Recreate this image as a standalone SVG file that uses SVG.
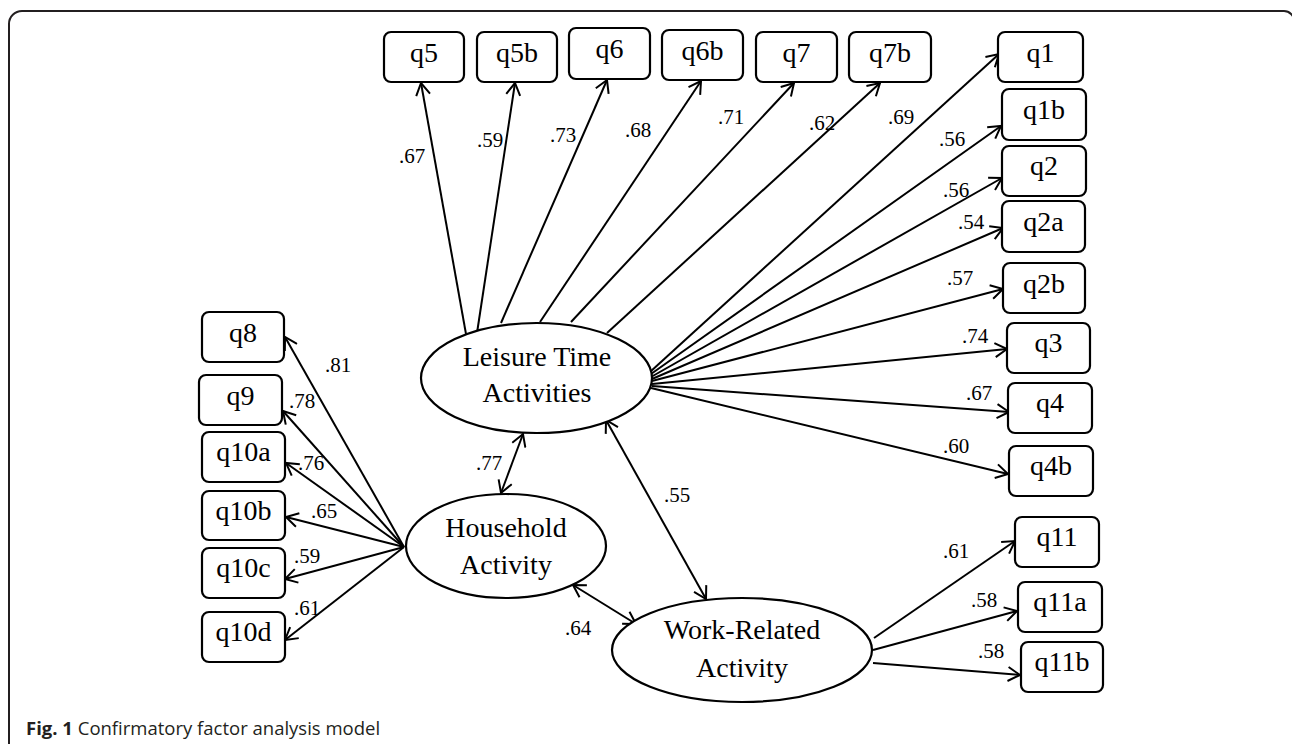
<svg xmlns="http://www.w3.org/2000/svg" width="1292" height="744" viewBox="0 0 1292 744">
<defs>
<style>
.box{fill:#fff;stroke:#000;stroke-width:2.2}
.ell{fill:#fff;stroke:#000;stroke-width:2.2}
.t{font-family:"Liberation Serif","Times New Roman",serif;font-size:28px;fill:#000;text-anchor:middle}
.e{font-family:"Liberation Serif","Times New Roman",serif;font-size:28px;fill:#000;text-anchor:middle}
.l{font-family:"Liberation Serif","Times New Roman",serif;font-size:21px;fill:#000}
.c line{stroke:#000;stroke-width:2;marker-end:url(#arr)}
.c line.bi{marker-start:url(#arr)}
.cap{font-family:"Open Sans","Noto Sans",sans-serif;font-size:18.5px;fill:#231f20}
</style>
<marker id="arr" viewBox="0 0 14 16" refX="13" refY="8" markerWidth="14" markerHeight="16" markerUnits="userSpaceOnUse" orient="auto-start-reverse">
<path d="M1,1 L13,8 L1,15" fill="none" stroke="#000" stroke-width="2"/>
</marker>
</defs>
<rect width="1292" height="744" fill="#fff"/>
<path d="M9,744 V24 A13,13 0 0 1 22,11 H1284 A10,10 0 0 1 1294,21 V744" fill="none" stroke="#231f20" stroke-width="2"/>

<g class="c" id="connectors">
<line x1="466" y1="334" x2="421" y2="83"/>
<line x1="477" y1="333" x2="515" y2="83"/>
<line x1="501" y1="323" x2="607" y2="80"/>
<line x1="540" y1="322" x2="701" y2="81"/>
<line x1="571" y1="322" x2="794" y2="83"/>
<line x1="607" y1="333" x2="880" y2="83"/>
<line x1="650" y1="372" x2="999" y2="54"/>
<line x1="651" y1="374" x2="1001" y2="126"/>
<line x1="651" y1="377" x2="1002" y2="178"/>
<line x1="652" y1="379" x2="1003" y2="228"/>
<line x1="652" y1="381" x2="1003" y2="289"/>
<line x1="652" y1="384" x2="1007" y2="349"/>
<line x1="652" y1="386" x2="1009" y2="412"/>
<line x1="651" y1="388" x2="1008" y2="474"/>
<line x1="404" y1="547" x2="285" y2="337"/>
<line x1="404" y1="547" x2="283" y2="411"/>
<line x1="404" y1="547" x2="286" y2="463"/>
<line x1="404" y1="547" x2="286" y2="517"/>
<line x1="404" y1="547" x2="285" y2="579"/>
<line x1="404" y1="547" x2="285" y2="640"/>
<line x1="874" y1="638" x2="1015" y2="541"/>
<line x1="873" y1="650" x2="1017" y2="611"/>
<line x1="873" y1="663" x2="1020" y2="675"/>
<line class="bi" x1="523" y1="434" x2="501" y2="493"/>
<line class="bi" x1="606" y1="420" x2="706" y2="599"/>
<line class="bi" x1="573" y1="585" x2="636" y2="624"/>
</g>

<g id="labels" class="l">
<text x="399" y="163">.67</text>
<text x="477" y="147">.59</text>
<text x="550" y="142">.73</text>
<text x="625" y="137">.68</text>
<text x="718" y="124">.71</text>
<text x="809" y="130">.62</text>
<text x="888" y="124">.69</text>
<text x="939" y="146">.56</text>
<text x="943" y="197">.56</text>
<text x="958" y="229">.54</text>
<text x="947" y="285">.57</text>
<text x="962" y="343">.74</text>
<text x="966" y="400">.67</text>
<text x="943" y="453">.60</text>
<text x="943" y="558">.61</text>
<text x="971" y="607">.58</text>
<text x="978" y="658">.58</text>
<text x="325" y="372">.81</text>
<text x="289" y="408">.78</text>
<text x="298" y="470">.76</text>
<text x="311" y="518">.65</text>
<text x="294" y="563">.59</text>
<text x="294" y="615">.61</text>
<text x="476" y="470">.77</text>
<text x="565" y="635">.64</text>
<text x="664" y="502">.55</text>
</g>

<g id="n-q5"><rect class="box" x="384" y="32" width="80" height="50" rx="7"/><text class="t" x="424" y="62">q5</text></g>
<g id="n-q5b"><rect class="box" x="477" y="32" width="80" height="50" rx="7"/><text class="t" x="517" y="62">q5b</text></g>
<g id="n-q6"><rect class="box" x="569" y="28" width="81" height="51" rx="7"/><text class="t" x="609.5" y="58">q6</text></g>
<g id="n-q6b"><rect class="box" x="662" y="30" width="81" height="50" rx="7"/><text class="t" x="702.5" y="60">q6b</text></g>
<g id="n-q7"><rect class="box" x="756" y="32" width="81" height="50" rx="7"/><text class="t" x="796.5" y="62">q7</text></g>
<g id="n-q7b"><rect class="box" x="849" y="32" width="82" height="50" rx="7"/><text class="t" x="890" y="62">q7b</text></g>

<g id="n-q1"><rect class="box" x="998" y="32" width="85" height="50" rx="7"/><text class="t" x="1040.5" y="62">q1</text></g>
<g id="n-q1b"><rect class="box" x="1002" y="89" width="84" height="51" rx="7"/><text class="t" x="1044" y="119">q1b</text></g>
<g id="n-q2"><rect class="box" x="1002" y="146" width="84" height="50" rx="7"/><text class="t" x="1044" y="175">q2</text></g>
<g id="n-q2a"><rect class="box" x="1002" y="201" width="83" height="51" rx="7"/><text class="t" x="1043.5" y="231">q2a</text></g>
<g id="n-q2b"><rect class="box" x="1003" y="263" width="82" height="50" rx="7"/><text class="t" x="1044" y="293">q2b</text></g>
<g id="n-q3"><rect class="box" x="1007" y="323" width="83" height="50" rx="7"/><text class="t" x="1048.5" y="352">q3</text></g>
<g id="n-q4"><rect class="box" x="1008" y="383" width="84" height="50" rx="7"/><text class="t" x="1050" y="412">q4</text></g>
<g id="n-q4b"><rect class="box" x="1009" y="446" width="84" height="50" rx="7"/><text class="t" x="1051" y="475">q4b</text></g>
<g id="n-q11"><rect class="box" x="1015" y="517" width="84" height="50" rx="7"/><text class="t" x="1057" y="546">q11</text></g>
<g id="n-q11a"><rect class="box" x="1018" y="582" width="84" height="50" rx="7"/><text class="t" x="1060" y="611">q11a</text></g>
<g id="n-q11b"><rect class="box" x="1021" y="642" width="82" height="50" rx="7"/><text class="t" x="1062" y="671">q11b</text></g>

<g id="n-q8"><rect class="box" x="202" y="312" width="82" height="50" rx="7"/><text class="t" x="243" y="342">q8</text></g>
<g id="n-q9"><rect class="box" x="199" y="375" width="83" height="50" rx="7"/><text class="t" x="240.5" y="405">q9</text></g>
<g id="n-q10a"><rect class="box" x="202" y="432" width="83" height="50" rx="7"/><text class="t" x="243.5" y="461">q10a</text></g>
<g id="n-q10b"><rect class="box" x="202" y="491" width="83" height="49" rx="7"/><text class="t" x="243.5" y="520">q10b</text></g>
<g id="n-q10c"><rect class="box" x="202" y="548" width="83" height="50" rx="7"/><text class="t" x="243.5" y="577">q10c</text></g>
<g id="n-q10d"><rect class="box" x="202" y="612" width="83" height="50" rx="7"/><text class="t" x="243.5" y="641">q10d</text></g>

<g id="n-leisure"><ellipse class="ell" cx="536.5" cy="378" rx="115.5" ry="55"/><text class="e" x="537" y="366">Leisure Time</text><text class="e" x="537" y="402">Activities</text></g>
<g id="n-household"><ellipse class="ell" cx="506" cy="546" rx="100" ry="52"/><text class="e" x="506" y="537">Household</text><text class="e" x="506" y="574">Activity</text></g>
<g id="n-work"><ellipse class="ell" cx="742" cy="650" rx="130" ry="52"/><text class="e" x="742" y="639">Work-Related</text><text class="e" x="742" y="677">Activity</text></g>

<text class="cap" x="26" y="735"><tspan font-weight="bold">Fig. 1</tspan> Confirmatory factor analysis model</text>
</svg>
